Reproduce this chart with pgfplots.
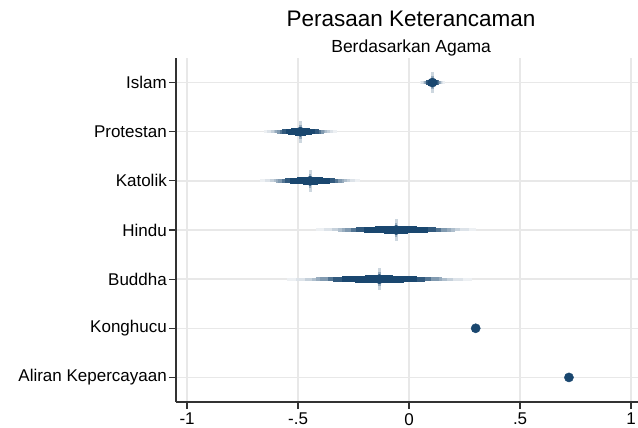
\documentclass[border=0pt]{standalone}
\usepackage{fontspec}
\setmainfont{Liberation Sans}
\usepackage{pgfplots}
\pgfplotsset{compat=1.18}
\definecolor{navy}{RGB}{26,71,111}
\definecolor{gridc}{RGB}{232,232,232}
\definecolor{axc}{RGB}{50,50,50}
\pgfplotsset{
  lvl/.style 2 args={only marks, mark=none, forget plot,
    error bars/.cd, x dir=both, x explicit, error mark=none,
    error bar style={draw=navy!#1, line width=#2pt, line cap=butt}}
}
\begin{document}
\begin{tikzpicture}
\begin{axis}[
  scale only axis, width=466.2pt, height=344pt,
  xmin=-1.05, xmax=1.05, ymin=0.5, ymax=7.5,
  axis x line*=bottom, axis y line*=left,
  axis line style={-, line width=1.3pt, color=axc},
  xtick={-1,-0.5,0,0.5,1}, xticklabels={-1,-.5,0,.5,1},
  ytick={1,2,3,4,5,6,7},
  yticklabels={Aliran Kepercayaan,Konghucu,Buddha,Hindu,Katolik,Protestan,Islam},
  tick align=outside, major tick length=7pt,
  tick style={line width=1.2pt, color=axc},
  grid=major, major grid style={line width=1.4pt, color=gridc},
  tick label style={font=\fontsize{17}{20}\selectfont, text=black},
  yticklabel style={inner sep=0pt, xshift=-2pt},
  xticklabel style={inner sep=0pt, yshift=-4pt},
  clip=true,
]
\coordinate (SW) at (rel axis cs:0,0);
\coordinate (TC) at (rel axis cs:0.5,1);
% graded confidence intervals (outer to inner)
\addplot[lvl={8}{3}] coordinates {(0.105,7) +- (0.0549,0) (-0.490,6) +- (0.1649,0) (-0.446,5) +- (0.2251,0) (-0.058,4) +- (0.3606,0) (-0.134,3) +- (0.4173,0)};
\addplot[lvl={15}{3}] coordinates {(0.105,7) +- (0.0495,0) (-0.490,6) +- (0.1489,0) (-0.446,5) +- (0.2033,0) (-0.058,4) +- (0.3256,0) (-0.134,3) +- (0.3768,0)};
\addplot[lvl={25}{3}] coordinates {(0.105,7) +- (0.0437,0) (-0.490,6) +- (0.1315,0) (-0.446,5) +- (0.1795,0) (-0.058,4) +- (0.2876,0) (-0.134,3) +- (0.3327,0)};
\addplot[lvl={35}{3.2}] coordinates {(0.105,7) +- (0.0401,0) (-0.490,6) +- (0.1204,0) (-0.446,5) +- (0.1644,0) (-0.058,4) +- (0.2633,0) (-0.134,3) +- (0.3047,0)};
\addplot[lvl={45}{3.4}] coordinates {(0.105,7) +- (0.0373,0) (-0.490,6) +- (0.1121,0) (-0.446,5) +- (0.1530,0) (-0.058,4) +- (0.2451,0) (-0.134,3) +- (0.2837,0)};
\addplot[lvl={55}{3.6}] coordinates {(0.105,7) +- (0.0350,0) (-0.490,6) +- (0.1053,0) (-0.446,5) +- (0.1438,0) (-0.058,4) +- (0.2303,0) (-0.134,3) +- (0.2665,0)};
\addplot[lvl={75}{4.2}] coordinates {(0.105,7) +- (0.0307,0) (-0.490,6) +- (0.0922,0) (-0.446,5) +- (0.1259,0) (-0.058,4) +- (0.2016,0) (-0.134,3) +- (0.2333,0)};
\addplot[lvl={90}{5}] coordinates {(0.105,7) +- (0.0273,0) (-0.490,6) +- (0.0820,0) (-0.446,5) +- (0.1120,0) (-0.058,4) +- (0.1795,0) (-0.134,3) +- (0.2077,0)};
\addplot[lvl={100}{5.5}] coordinates {(0.105,7) +- (0.0221,0) (-0.490,6) +- (0.0663,0) (-0.446,5) +- (0.0905,0) (-0.058,4) +- (0.1450,0) (-0.134,3) +- (0.1678,0)};
\addplot[lvl={100}{6}] coordinates {(0.105,7) +- (0.0179,0) (-0.490,6) +- (0.0539,0) (-0.446,5) +- (0.0736,0) (-0.058,4) +- (0.1179,0) (-0.134,3) +- (0.1364,0)};
\addplot[lvl={100}{7}] coordinates {(0.105,7) +- (0.0144,0) (-0.490,6) +- (0.0431,0) (-0.446,5) +- (0.0589,0) (-0.058,4) +- (0.0944,0) (-0.134,3) +- (0.1092,0)};
\addplot[lvl={100}{8}] coordinates {(0.105,7) +- (0.0082,0) (-0.490,6) +- (0.0246,0) (-0.446,5) +- (0.0336,0) (-0.058,4) +- (0.0539,0) (-0.134,3) +- (0.0624,0)};
% faint vertical spikes at the estimates
\addplot[only marks, mark=none, forget plot, error bars/.cd, y dir=both, y explicit, error mark=none,
  error bar style={draw=navy!22, line width=3pt}] coordinates {(0.105,7) +- (0,0.22) (-0.490,6) +- (0,0.22) (-0.446,5) +- (0,0.22) (-0.058,4) +- (0,0.22) (-0.134,3) +- (0,0.22)};
\addplot[only marks, mark=none, forget plot, error bars/.cd, y dir=both, y explicit, error mark=none,
  error bar style={draw=navy!45, line width=2.5pt}] coordinates {(0.105,7) +- (0,0.14) (-0.490,6) +- (0,0.14) (-0.446,5) +- (0,0.14) (-0.058,4) +- (0,0.14) (-0.134,3) +- (0,0.14)};
% point estimates
\addplot[only marks, mark=*, mark size=4.6pt, color=navy, mark options={draw=navy, fill=navy}]
  coordinates {(0.105,7) (-0.490,6) (-0.446,5) (-0.058,4) (-0.134,3) (0.30,2) (0.72,1)};
\end{axis}
\node[anchor=base, font=\fontsize{22.5}{26}\selectfont] at ([xshift=2pt, yshift=31pt]TC) {Perasaan Keterancaman};
\node[anchor=base, font=\fontsize{17.5}{20}\selectfont] at ([xshift=2pt, yshift=5pt]TC) {Berdasarkan Agama};
\pgfresetboundingbox
\path ([shift={(-176pt,-26pt)}]SW) rectangle ([shift={(462pt,402pt)}]SW);
\end{tikzpicture}
\end{document}
